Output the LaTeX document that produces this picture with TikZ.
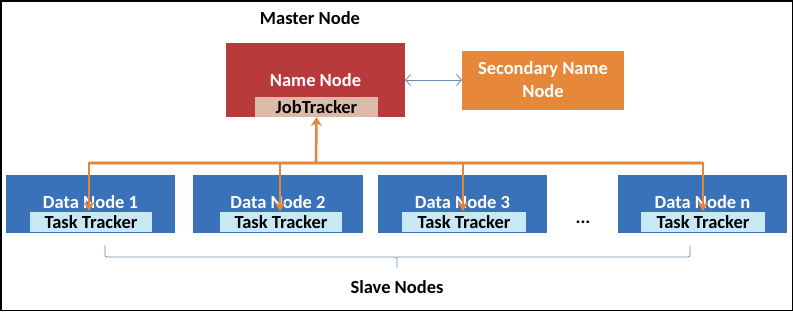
\documentclass[tikz,border=0pt]{standalone}
\usepackage{fontspec}
\setmainfont{Carlito}
\usetikzlibrary{arrows.meta}
\definecolor{namered}{HTML}{B83A3A}
\definecolor{jobpink}{HTML}{DDB9A9}
\definecolor{secorange}{HTML}{E6873A}
\definecolor{datablue}{HTML}{3A72BA}
\definecolor{tasklight}{HTML}{C8E8F5}
\definecolor{busorange}{HTML}{E8843A}
\definecolor{buslight}{HTML}{F5C8A0}
\definecolor{linkgray}{HTML}{6A8AAE}
\tikzset{
  box/.style={draw=none, inner sep=0pt, outer sep=0pt},
  bigfont/.style={font=\bfseries\fontsize{18.5}{23}\selectfont},
  nodetext/.style={bigfont, text=white, align=center},
  tracktext/.style={bigfont, text=black},
  bus/.style={draw=busorange, line width=2.6pt, line cap=butt, line join=miter},
  busglow/.style={draw=buslight, line width=4.4pt},
  busarrow/.style={bus, -{Stealth[length=9pt,width=11pt]}},
  link/.style={draw=linkgray, line width=0.8pt, {Straight Barb[length=5pt,width=11pt]}-{Straight Barb[length=5pt,width=11pt]}},
  brace/.style={draw=linkgray, line width=0.8pt, rounded corners=2pt}
}
\begin{document}
\begin{tikzpicture}[x=1pt,y=-1pt]
  % frame
  \draw[black, line width=1.5pt] (0.75,0.75) rectangle (792.25,310.25);
  \useasboundingbox (0,0) rectangle (793,311);

  % master side
  \node[bigfont] (master) at (310,18) {Master Node};
  \fill[namered] (226,43) rectangle (405,117);
  \node[box, minimum width=179pt, minimum height=74pt] (nn) at (315.5,80) {};
  \node[nodetext] (nntext) at (315.5,80) {Name Node};
  \fill[jobpink] (255,97) rectangle (378,117);
  \node[box, minimum width=123pt, minimum height=20pt] (jt) at (316.5,107) {};
  \node[tracktext] at (jt) {JobTracker};

  \fill[secorange] (462,51) rectangle (624,110);
  \node[box, minimum width=162pt, minimum height=59pt] (snn) at (543,80.5) {};
  \node[nodetext] at (543,80) {Secondary Name\\Node};

  \draw[link] (nn.east |- 0,80) -- (snn.west |- 0,80);

  % data nodes
  \foreach \i/\xl/\xr/\tl/\tr/\lab in {1/6/175/30/152/1, 2/193/363/220/342/2, 3/378/547/402/526/3, 4/618/787/641/765/n}{
    \fill[datablue] (\xl,175) rectangle (\xr,233);
    \node[box, minimum width={\xr-\xl}, minimum height=58pt] (dn\i) at ({(\xl+\xr)/2},204) {};
    \node[nodetext] (dnt\i) at ({(\xl+\xr)/2},202) {Data Node \lab};
    \fill[tasklight] (\tl,212) rectangle (\tr,232);
    \node[box, minimum width={\tr-\tl}, minimum height=20pt] (tt\i) at ({(\tl+\tr)/2},222) {};
    \node[tracktext] at (tt\i) {Task Tracker};
  }
  \node[bigfont] (dots) at (583,222) {...};

  % bus
  \coordinate (busL) at (89,163);
  \coordinate (busR) at (703,163);
  \coordinate (busM) at (316,163);
  \draw[busglow] (busL) -- (busR);
  \draw[bus] (busL) -- (busR);
  \draw[busarrow] (busM) -- (jt.south);
  \foreach \i/\x in {1/89,2/280,3/463,4/703}{
    \draw[busarrow] (\x,161.7) -- (\x,211);
  }

  % brace under the data nodes
  \coordinate (brL) at (105,245);
  \coordinate (brR) at (690,245);
  \coordinate (brM) at (397,268);
  \draw[brace] (brL) -- (105,257) -- (397,257) -- (brM);
  \draw[brace] (397,257) -- (690,257) -- (brR);
  \node[bigfont] (slave) at (397,287) {Slave Nodes};
\end{tikzpicture}
\end{document}
